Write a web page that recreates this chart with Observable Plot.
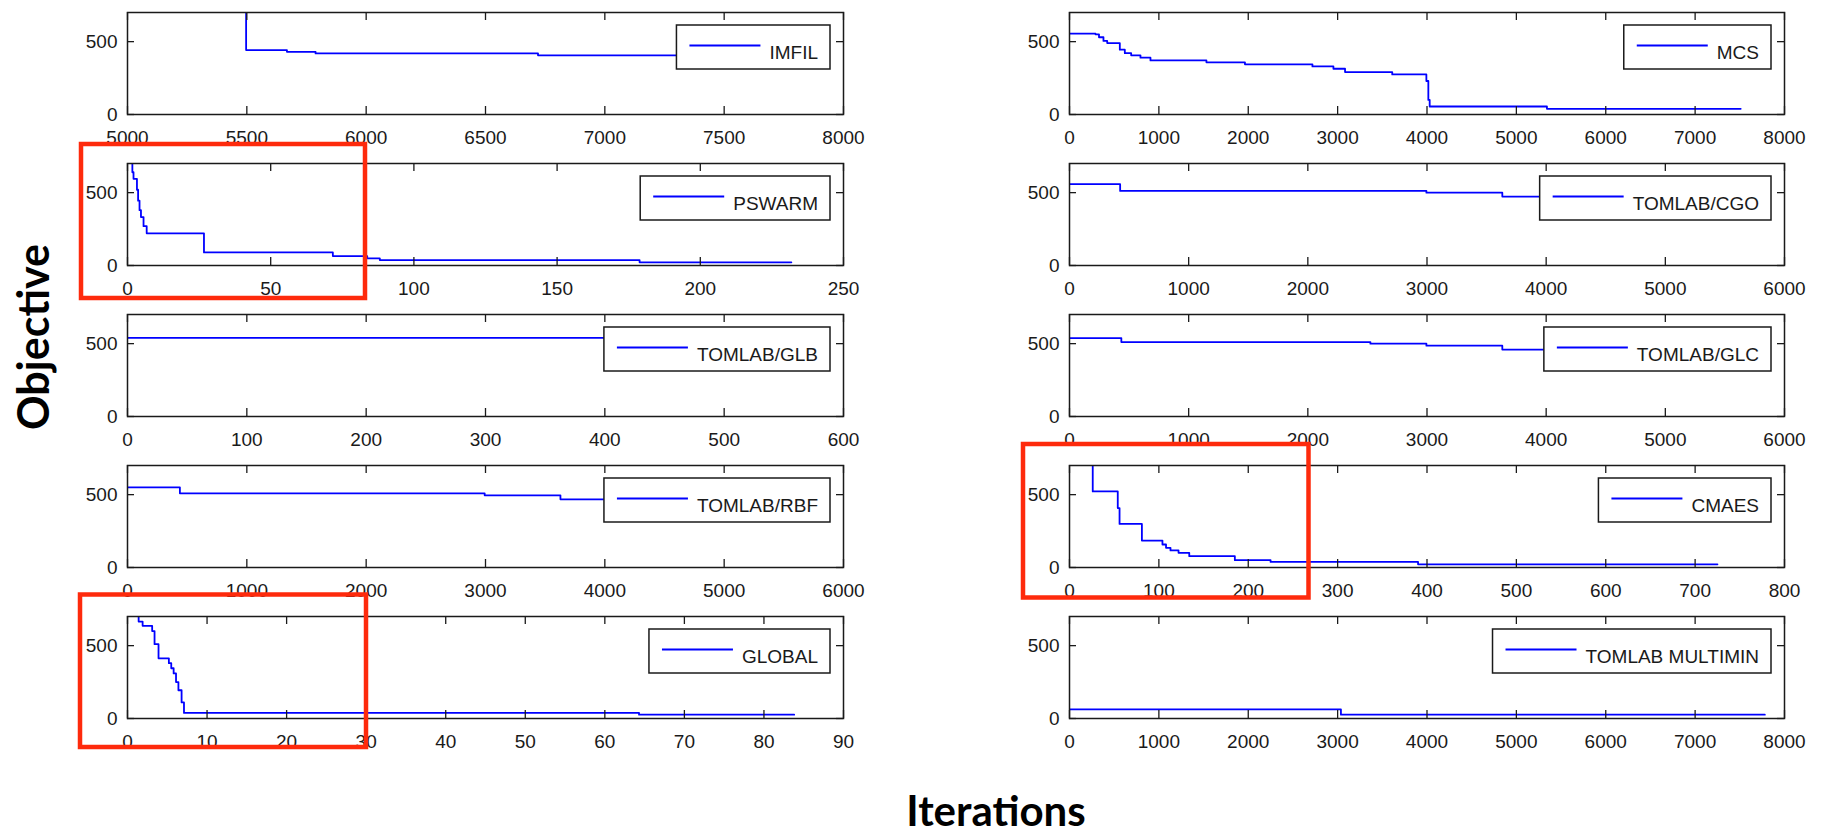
<!DOCTYPE html>
<html>
<head>
<meta charset="utf-8">
<script src="https://cdn.jsdelivr.net/npm/d3@7"></script>
<script src="https://cdn.jsdelivr.net/npm/@observablehq/plot@0.6"></script>
<style>
  html, body { margin: 0; padding: 0; background: #fff; }
  #chart { position: relative; width: 1823px; height: 835px; overflow: hidden; background: #fff; }
  #chart > svg { position: absolute; }
</style>
</head>
<body>
<div id="chart"></div>
<script>
// Best objective value found vs. iteration count, one panel per solver.
// Each series lists [iteration, objective] change points (drawn as steps).

const imfil    = [[5496, 1500], [5497, 442], [5668, 430], [5788, 419], [6720, 406], [7800, 406]];
const pswarm   = [[1.2, 760], [1.7, 640], [2.1, 595], [3.3, 520], [3.7, 445], [4.2, 380], [4.7, 332],
                  [5.6, 270], [6.7, 221], [26.7, 90], [71.7, 65], [83.7, 49], [88.1, 37], [178.8, 22], [231.8, 22]];
const glb      = [[0, 540], [560, 540]];
const rbf      = [[0, 550], [439, 509], [2993, 495], [3628, 468], [5600, 468]];
const global   = [[0.9, 705], [1.4, 665], [1.9, 636], [3.1, 600], [3.4, 510], [3.9, 413], [5.2, 380],
                  [5.5, 345], [5.8, 309], [6.1, 250], [6.4, 194], [6.8, 110], [7.1, 38], [64.3, 26], [83.8, 26]];
const mcs      = [[0, 555], [291, 550], [330, 530], [380, 505], [422, 490], [563, 445], [619, 421], [690, 406],
                  [794, 390], [906, 371], [1532, 358], [1963, 344], [2718, 330], [2953, 314], [3083, 291],
                  [3611, 275], [3993, 230], [4015, 100], [4030, 55], [5342, 39], [7510, 39]];
const cgo      = [[0, 558], [425, 512], [2995, 500], [3632, 473], [5600, 473]];
const glc      = [[0, 538], [435, 511], [2525, 500], [2995, 486], [3632, 459], [5600, 459]];
const cmaes    = [[24, 1500], [26, 522], [54, 408], [56, 299], [81, 185], [104, 158], [108, 135], [113, 117],
                  [122, 101], [134, 78], [185, 50], [225, 38], [390, 22], [725, 22]];
const multimin = [[0, 62], [3037, 26], [7780, 26]];

// Tick values for each panel
const ticksImfil  = [5000, 5500, 6000, 6500, 7000, 7500, 8000];
const ticks250    = [0, 50, 100, 150, 200, 250];
const ticks600    = [0, 100, 200, 300, 400, 500, 600];
const ticks6000   = [0, 1000, 2000, 3000, 4000, 5000, 6000];
const ticks90     = [0, 10, 20, 30, 40, 50, 60, 70, 80, 90];
const ticks8000   = [0, 1000, 2000, 3000, 4000, 5000, 6000, 7000, 8000];
const ticks800    = [0, 100, 200, 300, 400, 500, 600, 700, 800];
const yTicks      = [0, 500];
const yDomain     = [0, 700];

// Solver names in panel order: left column then right column
const solverNames = ["IMFIL", "PSWARM", "TOMLAB/GLB", "TOMLAB/RBF", "GLOBAL",
                     "MCS", "TOMLAB/CGO", "TOMLAB/GLC", "CMAES", "TOMLAB MULTIMIN"];

const panels = [
  {name: solverNames[0], data: imfil,    ticks: ticksImfil, col: 0, row: 0},
  {name: solverNames[1], data: pswarm,   ticks: ticks250,   col: 0, row: 1},
  {name: solverNames[2], data: glb,      ticks: ticks600,   col: 0, row: 2},
  {name: solverNames[3], data: rbf,      ticks: ticks6000,  col: 0, row: 3},
  {name: solverNames[4], data: global,   ticks: ticks90,    col: 0, row: 4},
  {name: solverNames[5], data: mcs,      ticks: ticks8000,  col: 1, row: 0},
  {name: solverNames[6], data: cgo,      ticks: ticks6000,  col: 1, row: 1},
  {name: solverNames[7], data: glc,      ticks: ticks6000,  col: 1, row: 2},
  {name: solverNames[8], data: cmaes,    ticks: ticks800,   col: 1, row: 3},
  {name: solverNames[9], data: multimin, ticks: ticks8000,  col: 1, row: 4}
];

// Layout of the axes boxes
const colLeft  = [127, 1069];
const colWidth = [716, 715];
const rowTop0  = 12, rowStep = 151, frameH = 102;
const M = {top: 10, right: 20, bottom: 40, left: 60};

const tickFont = '"Liberation Sans", Arial, Helvetica, sans-serif';
const ink = "#1a1a1a";
const chart = document.getElementById("chart");

for (const p of panels) {
  const fw = colWidth[p.col];
  const frameTop = rowTop0 + rowStep * p.row;
  const xDomain = [p.ticks[0], p.ticks[p.ticks.length - 1]];
  const svg = Plot.plot({
    width: fw + M.left + M.right,
    height: frameH + M.top + M.bottom,
    marginTop: M.top, marginRight: M.right, marginBottom: M.bottom, marginLeft: M.left,
    style: {background: "transparent", overflow: "visible", fontFamily: tickFont, fontSize: "19px", color: ink},
    x: {domain: xDomain},
    y: {domain: yDomain},
    marks: [
      Plot.line(p.data, {x: d => d[0], y: d => d[1], curve: "step-after", stroke: "#0000ff", strokeWidth: 1.8, clip: true}),
      // inward ticks on all four sides
      Plot.tickX(p.ticks, {x: d => d, insetTop: frameH - 8, stroke: ink, strokeWidth: 1.3}),
      Plot.tickX(p.ticks, {x: d => d, insetBottom: frameH - 8, stroke: ink, strokeWidth: 1.3}),
      Plot.tickY(yTicks, {y: d => d, insetRight: fw - 7, stroke: ink, strokeWidth: 1.3}),
      Plot.tickY(yTicks, {y: d => d, insetLeft: fw - 7, stroke: ink, strokeWidth: 1.3}),
      Plot.axisX(p.ticks, {tickSize: 0, tickPadding: 16, label: null, tickFormat: d3.format("d"), fill: ink}),
      Plot.axisY(yTicks, {tickSize: 0, tickPadding: 10, label: null, tickFormat: d3.format("d"), fill: ink}),
      Plot.frame({stroke: ink, strokeWidth: 1.5})
    ]
  });
  svg.style.left = (colLeft[p.col] - M.left) + "px";
  svg.style.top = (frameTop - M.top) + "px";
  chart.appendChild(svg);

  // legend box in the upper right corner of the axes
  const s = d3.select(svg);
  const g = s.append("g").attr("text-anchor", "start");
  const frameRight = M.left + fw;
  const label = g.append("text")
    .attr("text-anchor", "start")
    .attr("font-family", tickFont).attr("font-size", 19).attr("fill", ink)
    .text(p.name);
  const tw = label.node().getComputedTextLength();
  const boxW = tw + 105, boxH = 44;
  const bx = frameRight - 13 - boxW, by = M.top + 13;
  g.insert("rect", "text")
    .attr("x", bx).attr("y", by).attr("width", boxW).attr("height", boxH)
    .attr("fill", "#fff").attr("stroke", ink).attr("stroke-width", 1.5);
  g.insert("line", "text")
    .attr("x1", bx + 13).attr("x2", bx + 84).attr("y1", by + 20.5).attr("y2", by + 20.5)
    .attr("stroke", "#0000ff").attr("stroke-width", 1.8);
  label.attr("x", bx + 93).attr("y", by + 33.5);
}

// Shared axis titles and highlight boxes
const overlay = d3.create("svg")
  .attr("width", 1823).attr("height", 835)
  .style("left", "0px").style("top", "0px").style("pointer-events", "none");

const titleFont = 'Lato, "Open Sans", "DejaVu Sans", sans-serif';
overlay.append("text")
  .attr("transform", "translate(49,337) rotate(-90)")
  .attr("text-anchor", "middle")
  .attr("font-family", titleFont).attr("font-weight", 700).attr("font-size", 43)
  .attr("fill", "#000").text("Objective");
overlay.append("text")
  .attr("x", 996).attr("y", 826)
  .attr("text-anchor", "middle")
  .attr("font-family", titleFont).attr("font-weight", 700).attr("font-size", 42)
  .attr("fill", "#000").text("Iterations");

const highlights = [
  {x1: 81, y1: 144, x2: 365, y2: 298},
  {x1: 80, y1: 594.5, x2: 366, y2: 747},
  {x1: 1023, y1: 444, x2: 1308.5, y2: 597.5}
];
overlay.selectAll("rect.hl").data(highlights).join("rect")
  .attr("class", "hl")
  .attr("x", d => d.x1).attr("y", d => d.y1)
  .attr("width", d => d.x2 - d.x1).attr("height", d => d.y2 - d.y1)
  .attr("fill", "none").attr("stroke", "#fe2a0c").attr("stroke-width", 4.5);

chart.appendChild(overlay.node());
</script>
</body>
</html>
